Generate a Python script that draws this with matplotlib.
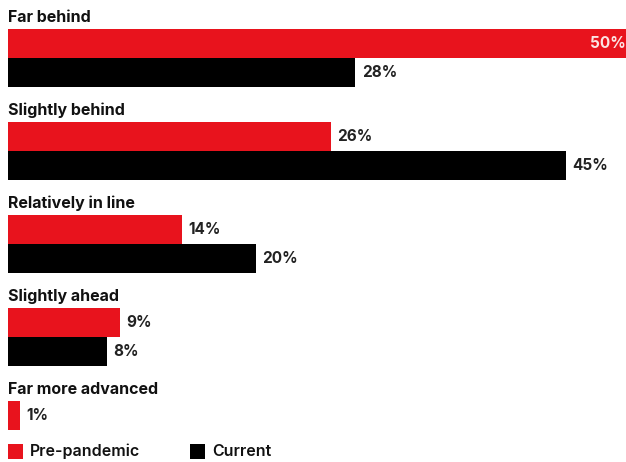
import numpy as np
import matplotlib.pyplot as plt

categories = ["Far behind", "Slightly behind", "Relatively in line",
              "Slightly ahead", "Far more advanced"]
pre_pandemic = [50, 26, 14, 9, 1]
current = [28, 45, 20, 8, None]
series_names = ["Pre-pandemic", "Current"]

RED = "#e8131d"
BLACK = "#000000"
FONT = "Inter"

fig = plt.figure(figsize=(6.26, 4.62), dpi=100)
# axes spans the full figure height; y units are pixels from top
ax = fig.add_axes([8 / 626, 0, 618 / 626, 1])
ax.set_xlim(0, 49.8)
ax.set_ylim(462, 0)
ax.axis("off")

group_top = 29
group_step = 93
bar_h = 29

for i, cat in enumerate(categories):
    top = group_top + i * group_step
    ax.text(0, top - 4, cat, fontsize=11.5, fontweight="bold", family=FONT,
            ha="left", va="bottom", color="#111111")
    y_red = top + bar_h / 2
    y_blk = top + bar_h * 1.5
    ax.barh(y_red, pre_pandemic[i], height=bar_h, color=RED)
    if pre_pandemic[i] >= 40:
        ax.text(pre_pandemic[i] - 0.25, y_red, f"{pre_pandemic[i]}%", color="#fbe3e3",
                fontsize=11, fontweight="bold", family=FONT, ha="right", va="center")
    else:
        ax.text(pre_pandemic[i] + 0.5, y_red, f"{pre_pandemic[i]}%", color="#222222",
                fontsize=11, fontweight="bold", family=FONT, ha="left", va="center")
    if current[i] is not None:
        ax.barh(y_blk, current[i], height=bar_h, color=BLACK)
        ax.text(current[i] + 0.5, y_blk, f"{current[i]}%", color="#222222",
                fontsize=11, fontweight="bold", family=FONT, ha="left", va="center")

# legend
leg_y = 451
ax.barh(leg_y, 1.2, height=15, left=0, color=RED)
ax.text(1.75, leg_y, series_names[0], fontsize=11.5, fontweight="semibold", family=FONT,
        ha="left", va="center", color="#111111")
ax.barh(leg_y, 1.2, height=15, left=14.7, color=BLACK)
ax.text(16.45, leg_y, series_names[1], fontsize=11.5, fontweight="semibold", family=FONT,
        ha="left", va="center", color="#111111")

fig.savefig("out.png", dpi=100)
